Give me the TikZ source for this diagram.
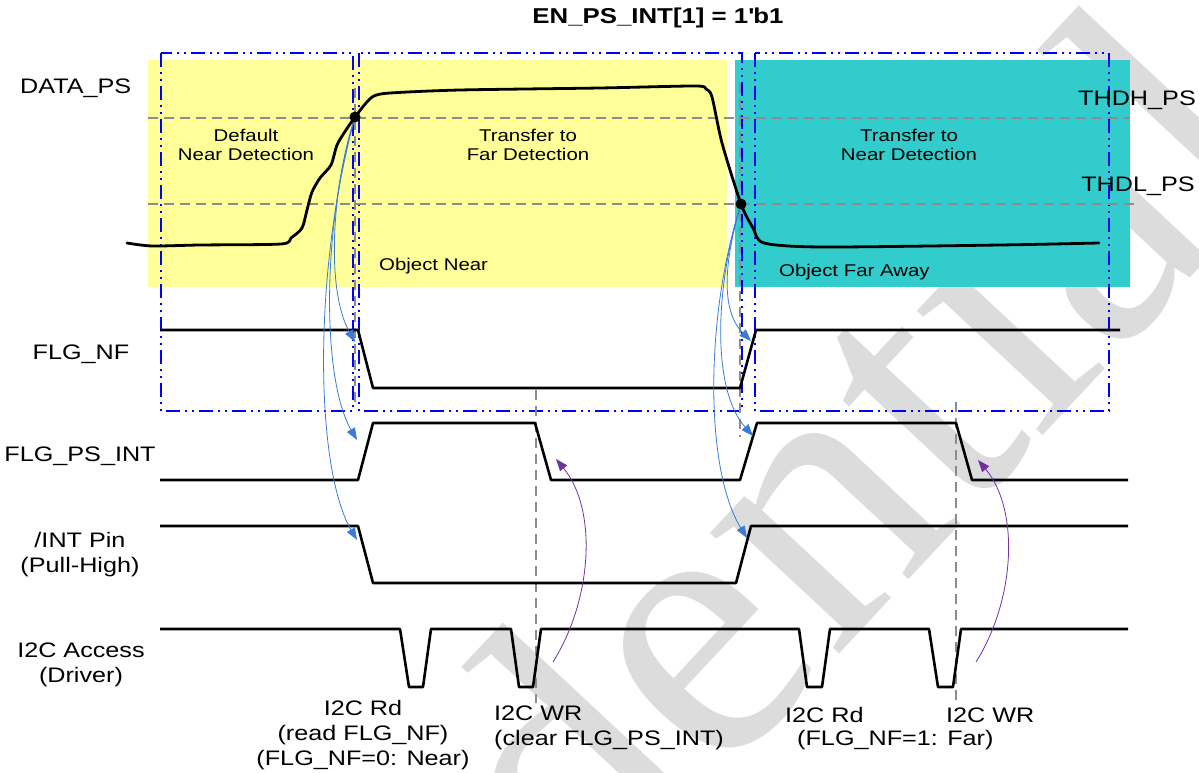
\documentclass[tikz,border=0pt]{standalone}
\usepackage{fontspec}
\setmainfont{Liberation Sans}[FakeStretch=1.2]
\newfontfamily\wmfont{Liberation Serif}
\usetikzlibrary{arrows.meta}
\definecolor{yel}{HTML}{FFFF99}
\definecolor{cya}{HTML}{33CCCC}
\definecolor{arrblue}{HTML}{3A7BD5}
\definecolor{arrpurp}{HTML}{7030A0}
\definecolor{gdash}{HTML}{8C8C8C}
\definecolor{wmgray}{HTML}{DCDCDC}
\begin{document}
\begin{tikzpicture}[x=1pt,y=-1pt,
  sig/.style={line width=2.6pt, line join=round},
  region/.style={draw=blue, line width=1.8pt, dash pattern=on 14pt off 5pt on 2pt off 5pt on 2pt off 5pt},
  thr/.style={draw=gdash, line width=1.4pt, dash pattern=on 10pt off 6pt},
  lbl/.style={font=\fontsize{21}{25}\selectfont, inner sep=0pt, align=center},
  small/.style={font=\fontsize{17}{19.5}\selectfont, inner sep=0pt, align=center},
  barrow/.style={draw=arrblue, line width=0.8pt, -{Triangle[length=12pt,width=9pt]}},
  parrow/.style={draw=arrpurp, line width=0.8pt, -{Triangle[length=12pt,width=9pt]}},
  dot/.style={circle, fill=black, inner sep=0pt, minimum size=11pt},
]
\useasboundingbox (0,0) rectangle (1199,773);
% watermark
\node[text=wmgray, font=\wmfont\fontsize{385}{385}\selectfont, rotate=47, anchor=base east, inner sep=0pt] (wm) at (1300,160) {Confidential};
% backgrounds
\fill[yel] (148,60) rectangle (727,287);
\fill[cya] (735,60) rectangle (1130,287);
% region boxes
\draw[region] (161,53) rectangle (353,411);
\draw[region] (359,53) rectangle (742,411);
\draw[region] (755,53) rectangle (1109,411);
% thresholds
\draw[thr] (148,118) -- (1130,118);
\draw[thr] (148,204) -- (1140,204);
\draw[thr] (355,88) -- (355,405);
\draw[thr] (740,83) -- (740,437);
\draw[thr] (536,390) -- (536,703);
\draw[thr] (956,402) -- (956,705);
% DATA_PS curve
\draw[line width=2.8pt, line join=round, line cap=round] plot[smooth, tension=0.45] coordinates {
 (127,243) (152,246) (200,245) (281,244) (291,238) (302,228) (307,210) (312,192) (320,178) (331,165) (337,145) (346,130) (355,117) (366,103) (374,96) (390,93) (460,90) (600,88) (695,86) (706,89) (712,97) (722,143) (741,204) (753,228) (764,243) (822,247) (1000,245) (1099,243)};
\node[dot] (d1) at (355,117) {};
\node[dot] (d2) at (741,204) {};
% signals
\draw[sig] (160,330) -- (358,330) -- (373,388) -- (740,388) -- (756,330) -- (1120,330);
\draw[sig] (160,480) -- (358,480) -- (373,423) -- (535,423) -- (551,480) -- (740,480) -- (757,423) -- (956,423) -- (972,480) -- (1128,480);
\draw[sig] (160,526) -- (358,526) -- (373,583) -- (736,583) -- (751,526) -- (1128,526);
\draw[sig] (160,629) -- (400,629) -- (409,687) -- (423,687) -- (431,629) -- (511,629) -- (519,687) -- (533,687) -- (541,629) -- (799,629) -- (807,687) -- (822,687) -- (830,629) -- (929,629) -- (938,687) -- (953,687) -- (961,629) -- (1128,629);
% arrow targets
\coordinate (a1) at (355,342);
\coordinate (b1) at (357,440);
\coordinate (c1) at (357,540);
\coordinate (a2) at (751,341);
\coordinate (b2) at (753,436);
\coordinate (c2) at (747,538);
\coordinate (p1s) at (553,662);
\coordinate (p1e) at (556,459);
\coordinate (p2s) at (976,662);
\coordinate (p2e) at (978,460);
\draw[barrow] (d1) .. controls (332,190) and (326,290) .. (a1);
\draw[barrow] (d1) .. controls (322,230) and (322,380) .. (b1);
\draw[barrow] (d1) .. controls (312,280) and (316,470) .. (c1);
\draw[barrow] (d2) .. controls (725,260) and (720,310) .. (a2);
\draw[barrow] (d2) .. controls (715,290) and (712,390) .. (b2);
\draw[barrow] (d2) .. controls (705,320) and (705,470) .. (c2);
\draw[parrow] (p1s) .. controls (592,600) and (598,510) .. (p1e);
\draw[parrow] (p2s) .. controls (1015,600) and (1020,510) .. (p2e);
% texts
\node[lbl, font=\bfseries\fontsize{21.5}{25}\selectfont] (title) at (658,18) {EN\_PS\_INT[1] = 1\textquotesingle b1};
\node[lbl, anchor=west] (ldata) at (20,88) {DATA\_PS};
\node[lbl] (lthdh) at (1137,100) {THDH\_PS};
\node[lbl] (lthdl) at (1138,186) {THDL\_PS};
\node[small] (r1) at (246,145) {Default\\Near Detection};
\node[small] (r2) at (528,145) {Transfer to\\Far Detection};
\node[small] (r3) at (909,145) {Transfer to\\Near Detection};
\node[small, anchor=west] (onear) at (379,266) {Object Near};
\node[small, anchor=west] (ofar) at (779,272) {Object Far Away};
\node[lbl] (lnf) at (81,354) {FLG\_NF};
\node[lbl] (lpsint) at (80,456) {FLG\_PS\_INT};
\node[lbl] (lint) at (80,555) {/INT Pin\\(Pull-High)};
\node[lbl] (li2c) at (81,665) {I2C Access\\(Driver)};
\node[lbl] (rd1) at (363,735) {I2C Rd\\(read FLG\_NF)\\(FLG\_NF=0: Near)};
\node[lbl, align=left, anchor=west] (wr1) at (494,728) {I2C WR\\(clear FLG\_PS\_INT)};
\node[lbl, anchor=west] (rd2a) at (785,715) {I2C Rd};
\node[lbl, anchor=west] (rd2b) at (797,740) {(FLG\_NF=1: Far)};
\node[lbl, anchor=west] (wr2) at (946,715) {I2C WR};
\end{tikzpicture}
\end{document}
